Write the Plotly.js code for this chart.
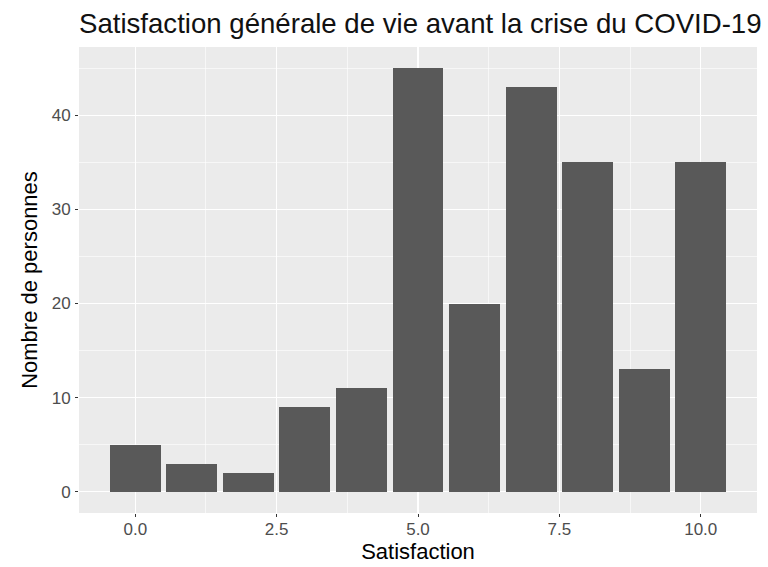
<!DOCTYPE html>
<html>
<head>
<meta charset="utf-8">
<script src="https://cdn.plot.ly/plotly-3.0.1.min.js"></script>
<style>html,body{margin:0;padding:0;background:#fff;}#chart{width:768px;height:567px;}</style>
</head>
<body>
<div id="chart"></div>
<script>
const satisfaction = [0, 1, 2, 3, 4, 5, 6, 7, 8, 9, 10];
const personnes = [5, 3, 2, 9, 11, 45, 20, 43, 35, 13, 35];
const xTickVals = [0, 2.5, 5, 7.5, 10];
const xTickText = ["0.0", "2.5", "5.0", "7.5", "10.0"];
const yTickVals = [0, 10, 20, 30, 40];

const trace = {
  type: 'bar',
  x: satisfaction,
  y: personnes,
  width: 0.9,
  marker: {color: '#595959', line: {width: 0}},
  hoverinfo: 'x+y'
};

const fontFam = '"Liberation Sans", Arial, Helvetica, sans-serif';
const layout = {
  width: 768, height: 567,
  margin: {l: 79, r: 11, t: 47, b: 54},
  paper_bgcolor: '#ffffff',
  plot_bgcolor: '#ebebeb',
  font: {family: fontFam, color: '#000'},
  title: {text: 'Satisfaction générale de vie avant la crise du COVID-19',
          font: {size: 27.6, color: '#111', family: fontFam},
          x: 0, xanchor: 'left', xref: 'paper', y: 22, yref: 'container', yanchor: 'middle'},
  bargap: 0,
  xaxis: {
    range: [-0.995, 10.995], tickvals: xTickVals, ticktext: xTickText,
    showgrid: true, gridcolor: '#ffffff', gridwidth: 1.3,
    minor: {dtick: 1.25, tick0: 1.25, showgrid: true, gridcolor: '#ffffff', gridwidth: 0.6, ticks: ''},
    zeroline: false, showline: false,
    ticks: 'outside', ticklen: 3, tickwidth: 1, tickcolor: '#333333',
    ticklabelstandoff: -2,
    tickfont: {size: 17, color: '#4d4d4d'},
    title: {text: 'Satisfaction', font: {size: 22, color: '#000'}, standoff: 1},
    fixedrange: true
  },
  yaxis: {
    range: [-2.25, 47.25], tickvals: yTickVals,
    showgrid: true, gridcolor: '#ffffff', gridwidth: 1.3,
    minor: {dtick: 10, tick0: 5, showgrid: true, gridcolor: '#ffffff', gridwidth: 0.6, ticks: ''},
    zeroline: false, showline: false,
    ticks: 'outside', ticklen: 3, tickwidth: 1, tickcolor: '#333333',
    ticklabelstandoff: 1,
    tickfont: {size: 17, color: '#4d4d4d'},
    title: {text: 'Nombre de personnes', font: {size: 22, color: '#000'}, standoff: 7},
    fixedrange: true
  },
  showlegend: false
};

Plotly.newPlot('chart', [trace], layout, {displayModeBar: false, staticPlot: true});
</script>
</body>
</html>
